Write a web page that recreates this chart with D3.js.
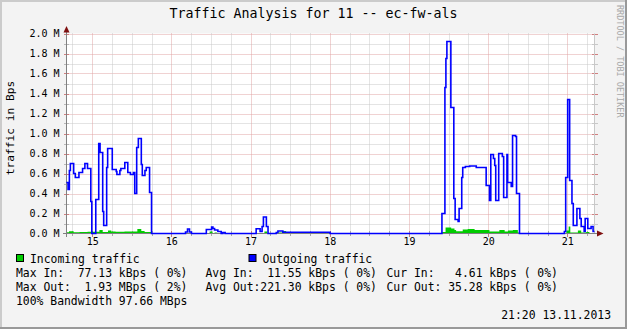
<!DOCTYPE html>
<html><head><meta charset="utf-8">
<script src="https://cdn.jsdelivr.net/npm/d3@7/dist/d3.min.js"></script>
<style>
html,body{margin:0;padding:0;background:#fff;overflow:hidden}
svg text{font-family:"DejaVu Sans Mono",monospace;white-space:pre}
</style></head><body>
<svg id="c" width="627" height="329"></svg>
<script>
// ---------- data ----------
const title = "Traffic Analysis for 11 -- ec-fw-als";
const yAxisTitle = "traffic in Bps";
const watermark = "RRDTOOL / TOBI OETIKER";
const dayTickLabels = ["15","16","17","18","19","20","21"];
const yTickValues = [0, 0.2, 0.4, 0.6, 0.8, 1.0, 1.2, 1.4, 1.6, 1.8, 2.0]; // MBps
// hours counted from 14.11 00:00; window shown
const windowHours = [16.23, 176.23];
// Outgoing traffic (MBps), step values starting at each hour
const outHours = [16.2,16.7,17.1,17.4,18.4,18.9,20.0,21.1,21.8,22.6,23.6,23.9,25.1,26.0,26.4,27.2,27.5,28.4,28.7,30.1,31.3,31.5,32.4,32.7,33.9,34.8,35.6,36.5,36.9,37.5,38.0,38.9,39.2,40.0,40.4,41.4,42.0,
  52.3,52.9,53.5,54.1,58.6,60.2,60.6,61.1,62.1,63.1,63.6,64.3,
  73.7,74.9,75.5,75.9,76.8,77.3,79.8,80.3,81.8,96.1,
  130.0,130.9,131.2,131.5,132.7,133.6,134.0,134.9,135.2,136.0,136.3,137.1,138.4,140.4,143.4,144.4,144.8,145.6,146.0,146.3,147.2,148.3,148.7,149.7,149.9,151.0,151.4,152.3,152.6,153.5,
  167.1,167.5,168.1,168.7,169.4,169.8,170.9,171.8,172.2,173.1,173.4,174.2,175.2,175.8];
const outValues = [0.51,0.44,0.63,0.70,0.60,0.56,0.61,0.65,0.70,0.65,0.32,0,0.34,0.90,0.81,0.22,0.08,0.66,0.85,0.64,0.62,0.59,0.63,0.65,0.71,0.61,0.59,0.61,0.40,0.86,0.95,0.69,0.58,0.63,0.66,0.41,0,
  0.015,0.045,0.015,0,0.04,0.065,0.05,0.035,0.02,0,0.01,0,
  0.048,0.02,0.07,0.165,0.07,0,0.01,0.025,0.012,0,
  0.20,1.46,1.75,1.92,1.26,0.35,0.14,0.12,0.25,0.56,0.66,0.67,0.675,0.66,0.48,0.33,0.79,0.75,0.68,0.33,0.80,0.77,0.36,0.79,0.51,0.47,0.98,0.97,0.40,0,
  0.02,0.56,1.34,0.53,0.30,0.08,0.25,0.15,0.07,0.02,0.15,0.05,0.07,0.02];
// Incoming traffic (MBps)
const inHours = [16.2,17.0,18.4,20.2,22.6,26.2,27.2,28.8,29.8,31.1,33.8,37.7,38.9,39.9,41.9,
  59.6,60.5,61.1,61.8,76.2,77.1,80.3,81.6,82.8,95.9,
  130.0,131.1,132.8,133.8,134.3,136.3,137.8,139.9,144.4,147.4,149.0,150.0,151.5,153.0,153.5,
  167.7,168.4,168.9,171.2,172.2,173.7,174.7];
const inValues = [0.012,0.022,0.013,0.015,0.018,0.035,0.015,0.03,0.02,0.018,0.02,0.045,0.025,0.015,0,
  0.02,0,0.01,0,0.02,0,0.01,0.025,0.006,0,
  0.015,0.06,0.05,0.035,0.023,0.04,0.045,0.035,0.02,0.035,0.02,0.03,0.035,0.01,0,
  0.03,0.07,0.01,0.03,0.01,0.015,0.005];
const seriesNames = ["Incoming traffic", "Outgoing traffic"];
const seriesColors = ["#00CC00", "#0000FF"];
const statsRowIn = ["Max In:  77.13 kBps ( 0%)", "Avg In:  11.55 kBps ( 0%)", "Cur In:   4.61 kBps ( 0%)"];
const statsRowOut = ["Max Out:  1.93 MBps ( 2%)", "Avg Out:221.30 kBps ( 0%)", "Cur Out: 35.28 kBps ( 0%)"];
const bandwidthNote = "100% Bandwidth 97.66 MBps";
const timestamp = "21:20 13.11.2013";

// ---------- drawing ----------
const W = 627, H = 329;
const svg = d3.select("#c");
const base = new Date(2013, 10, 14, 0, 0).getTime();
const toDate = h => new Date(base + h * 3600e3);
const t0 = toDate(windowHours[0]), t1 = toDate(windowHours[1]);

const x = d3.scaleTime().domain([t0, t1]).range([66.5, 594.5]);
const y = d3.scaleLinear().domain([0, 2.0e6]).range([233.5, 33.5]);

// background + border
svg.append("rect").attr("width", W).attr("height", H).attr("fill", "#F3F3F3");
svg.append("line").attr("x1",0).attr("y1",1).attr("x2",W).attr("y2",1).attr("stroke","#CBCBCB").attr("stroke-width",2);
svg.append("line").attr("x1",1).attr("y1",0).attr("x2",1).attr("y2",H).attr("stroke","#CBCBCB").attr("stroke-width",2);
svg.append("line").attr("x1",0).attr("y1",H-1).attr("x2",W).attr("y2",H-1).attr("stroke","#999999").attr("stroke-width",2);
svg.append("line").attr("x1",W-1).attr("y1",0).attr("x2",W-1).attr("y2",H).attr("stroke","#999999").attr("stroke-width",2);

// plot area
svg.append("rect").attr("x", 66.5).attr("y", 33.5).attr("width", 528).attr("height", 200).attr("fill", "#FFFFFF");

const minorCol = "#C8C8C8", majorCol = "#E0A4A4";
// horizontal grid
const yGrid = d3.range(1, 21).map(i => i * 0.1e6);
yGrid.forEach((v, i) => {
  const major = (i + 1) % 2 === 0;
  const yy = Math.round(y(v)) + 0.5;
  svg.append("line").attr("x1", 66.5).attr("x2", 594.5).attr("y1", yy).attr("y2", yy)
    .attr("stroke", major ? majorCol : minorCol).attr("stroke-dasharray", "1,1");
  svg.append("line").attr("x1", 64).attr("x2", 69).attr("y1", yy).attr("y2", yy)
    .attr("stroke", major ? "#D08080" : "#B8B8B8");
  svg.append("line").attr("x1", 592).attr("x2", 598).attr("y1", yy).attr("y2", yy)
    .attr("stroke", major ? "#D08080" : "#C8C8C8");
});
// vertical grid (6h minor, day major)
const hours6 = d3.timeHour.every(6).range(t0, t1);
hours6.forEach(d => {
  const major = d.getHours() === 0;
  const xx = Math.round(x(d)) + 0.5;
  svg.append("line").attr("x1", xx).attr("x2", xx).attr("y1", 33.5).attr("y2", 233.5)
    .attr("stroke", major ? majorCol : minorCol).attr("stroke-dasharray", "1,1");
  svg.append("line").attr("x1", xx).attr("x2", xx).attr("y1", 231).attr("y2", major ? 237 : 236)
    .attr("stroke", major ? "#C08080" : "#A8A8A8");
});
// right edge line
svg.append("line").attr("x1", 594.5).attr("x2", 594.5).attr("y1", 33.5).attr("y2", 233.5).attr("stroke", "#C8C8C8");

// series
function stepData(hs, vs) {
  const pts = hs.map((h, i) => ({ t: toDate(h), v: vs[i] * 1e6 }));
  pts.push({ t: t1, v: vs[vs.length - 1] * 1e6 });
  return pts;
}
const inData = stepData(inHours, inValues);
const outData = stepData(outHours, outValues);

svg.append("path").datum(inData)
  .attr("d", d3.area().x(d => x(d.t)).y0(y(0)).y1(d => y(d.v)).curve(d3.curveStepAfter))
  .attr("fill", seriesColors[0]);

// axes lines
svg.append("line").attr("x1", 63).attr("x2", 598).attr("y1", 233.5).attr("y2", 233.5).attr("stroke", "#808080");
svg.append("line").attr("x1", 66.5).attr("x2", 66.5).attr("y1", 30).attr("y2", 237).attr("stroke", "#808080");

svg.append("path").datum(outData)
  .attr("d", d3.line().x(d => x(d.t)).y(d => y(d.v)).curve(d3.curveStepAfter))
  .attr("fill", "none").attr("stroke", seriesColors[1]).attr("stroke-width", 1.6);

// arrows
svg.append("path").attr("d", "M63.5,32.5 L66.5,26 L69.5,32.5 Z").attr("fill", "#7F1010");
svg.append("path").attr("d", "M597,230.5 L603.5,233.5 L597,236.5 Z").attr("fill", "#7F1010");

// axis labels through d3 axes
const yAxis = d3.axisLeft(y).tickValues(yTickValues.map(v => v * 1e6))
  .tickFormat(d => d3.format(".1f")(d / 1e6) + " M").tickSize(0).tickPadding(7);
const gy = svg.append("g").attr("transform", "translate(66.5,0)").call(yAxis);
gy.select(".domain").remove();
gy.selectAll("text").attr("font-family", "DejaVu Sans Mono").attr("font-size", 10).attr("fill", "#000");

const dayTicks = d3.timeDay.range(t0, t1);
const xAxis = d3.axisBottom(x).tickValues(dayTicks)
  .tickFormat((d, i) => dayTickLabels[i]).tickSize(0).tickPadding(4);
const gx = svg.append("g").attr("transform", "translate(0,233.5)").call(xAxis);
gx.select(".domain").remove();
gx.selectAll("text").attr("font-family", "DejaVu Sans Mono").attr("font-size", 10).attr("fill", "#000");

// title
svg.append("text").attr("x", 313.5).attr("y", 18).attr("text-anchor", "middle")
  .attr("font-size", 13.3).attr("fill", "#000").text(title);
// y axis title
svg.append("text").attr("transform", "translate(13.5,128) rotate(-90)").attr("text-anchor", "middle")
  .attr("font-size", 11.2).attr("fill", "#000").text(yAxisTitle);
// watermark
svg.append("text").attr("transform", "translate(617,5) rotate(90)")
  .attr("font-size", 8.5).attr("fill", "#A8A8A8").text(watermark);

// legend
const lf = 11.4;
const boxX = [16, 248.5], textX = [30, 262.5];
seriesNames.forEach((n, i) => {
  svg.append("rect").attr("x", boxX[i] + 0.5).attr("y", 254.5).attr("width", 7).attr("height", 7)
    .attr("fill", seriesColors[i]).attr("stroke", "#000");
  svg.append("text").attr("x", textX[i]).attr("y", 263).attr("font-size", lf).attr("fill", "#000").text(n);
});
const colX = [16, 205.5, 386.5];
[statsRowIn, statsRowOut].forEach((row, r) => {
  row.forEach((s, c) => {
    svg.append("text").attr("x", colX[c]).attr("y", 277 + r * 14).attr("font-size", lf).attr("fill", "#000").text(s);
  });
});
svg.append("text").attr("x", 16).attr("y", 305).attr("font-size", lf).attr("fill", "#000").text(bandwidthNote);
svg.append("text").attr("x", 611).attr("y", 319).attr("text-anchor", "end").attr("font-size", lf).attr("fill", "#000").text(timestamp);
</script>
</body></html>
